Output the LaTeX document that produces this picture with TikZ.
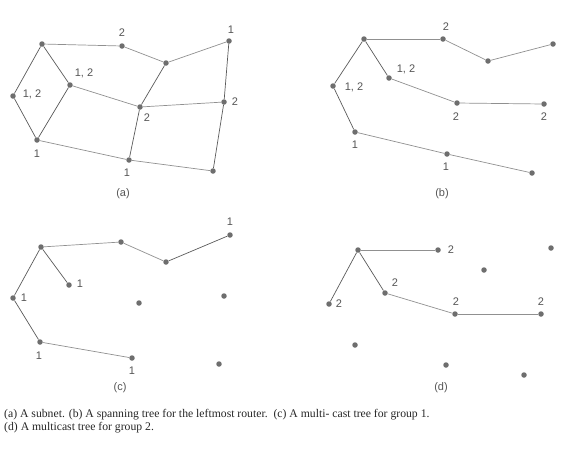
\documentclass[tikz,border=0pt]{standalone}
\usepackage{fontspec}
\setmainfont{Liberation Serif}
\newfontfamily\lblfont{Liberation Sans}
\definecolor{dotgray}{HTML}{6E6E6E}
\definecolor{linedark}{HTML}{5A5A5A}
\definecolor{linelight}{HTML}{909090}
\definecolor{lblgray}{HTML}{555555}
\begin{document}
\begin{tikzpicture}[x=1pt,y=-1pt,
  dot/.style={circle,fill=dotgray,inner sep=0pt,minimum size=5.5pt},
  linkd/.style={draw=linedark,line width=0.7pt},
  linkl/.style={draw=linelight,line width=0.7pt},
  lbl/.style={font=\lblfont\fontsize{11}{13}\selectfont,text=lblgray,inner sep=0pt},
  captext/.style={font=\fontsize{11.7}{13}\selectfont,inner sep=0pt,anchor=west,text=black!85}]
\useasboundingbox (0,0) rectangle (578,459);
% ---------- (a)
\node[dot] (a1) at (42,44) {};
\node[dot] (a2) at (122,46) {};
\node[dot] (a3) at (166,63) {};
\node[dot] (a4) at (229,41) {};
\node[dot] (a5) at (13,96) {};
\node[dot] (a6) at (70,85) {};
\node[dot] (a7) at (140,107) {};
\node[dot] (a8) at (224,102) {};
\node[dot] (a9) at (37,140) {};
\node[dot] (a10) at (129,160) {};
\node[dot] (a11) at (213,171) {};
\draw[linkl] (a1) -- (a2);
\draw[linkl] (a2) -- (a3);
\draw[linkl] (a3) -- (a4);
\draw[linkd] (a1) -- (a5);
\draw[linkd] (a1) -- (a6);
\draw[linkd] (a5) -- (a9);
\draw[linkd] (a6) -- (a9);
\draw[linkl] (a6) -- (a7);
\draw[linkd] (a3) -- (a7);
\draw[linkl] (a7) -- (a8);
\draw[linkd] (a4) -- (a8);
\draw[linkd] (a7) -- (a10);
\draw[linkl] (a9) -- (a10);
\draw[linkl] (a10) -- (a11);
\draw[linkd] (a8) -- (a11);
\node[lbl] (la2) at (122,33) {2};
\node[lbl] (la4) at (231,30) {1};
\node[lbl] (la5) at (32,94) {1, 2};
\node[lbl] (la6) at (84,73) {1, 2};
\node[lbl] (la7) at (147,118) {2};
\node[lbl] (la8) at (235,102) {2};
\node[lbl] (la9) at (37,154) {1};
\node[lbl] (la10) at (127,173) {1};
\node[lbl] (ta) at (123,194) {(a)};
% ---------- (b)
\node[dot] (b1) at (364,39) {};
\node[dot] (b2) at (443,39) {};
\node[dot] (b3) at (488,61) {};
\node[dot] (b4) at (553,44) {};
\node[dot] (b5) at (333,86) {};
\node[dot] (b6) at (389,78) {};
\node[dot] (b7) at (457,103) {};
\node[dot] (b8) at (544,104) {};
\node[dot] (b9) at (355,132) {};
\node[dot] (b10) at (447,154) {};
\node[dot] (b11) at (532,173) {};
\draw[linkl] (b1) -- (b2);
\draw[linkl] (b2) -- (b3);
\draw[linkl] (b3) -- (b4);
\draw[linkd] (b1) -- (b5);
\draw[linkd] (b1) -- (b6);
\draw[linkd] (b5) -- (b9);
\draw[linkl] (b6) -- (b7);
\draw[linkl] (b7) -- (b8);
\draw[linkl] (b9) -- (b10);
\draw[linkl] (b10) -- (b11);
\node[lbl] (lb2) at (446,27) {2};
\node[lbl] (lb5) at (354,87) {1, 2};
\node[lbl] (lb6) at (406,69) {1, 2};
\node[lbl] (lb7) at (456,117) {2};
\node[lbl] (lb8) at (544,117) {2};
\node[lbl] (lb9) at (355,145) {1};
\node[lbl] (lb10) at (446,167) {1};
\node[lbl] (tb) at (442,194) {(b)};
% ---------- (c)
\node[dot] (c1) at (41,247) {};
\node[dot] (c2) at (121,242) {};
\node[dot] (c3) at (166,262) {};
\node[dot] (c4) at (230,235) {};
\node[dot] (c5) at (13,298) {};
\node[dot] (c6) at (69,285) {};
\node[dot] (c7) at (139,303) {};
\node[dot] (c8) at (224,296) {};
\node[dot] (c9) at (40,342) {};
\node[dot] (c10) at (132,358) {};
\node[dot] (c11) at (219,364) {};
\draw[linkl] (c1) -- (c2);
\draw[linkl] (c2) -- (c3);
\draw[linkd] (c3) -- (c4);
\draw[linkd] (c1) -- (c5);
\draw[linkd] (c1) -- (c6);
\draw[linkd] (c5) -- (c9);
\draw[linkl] (c9) -- (c10);
\node[lbl] (lc4) at (230,222) {1};
\node[lbl] (lc5) at (24,298) {1};
\node[lbl] (lc6) at (80,284) {1};
\node[lbl] (lc9) at (39,356) {1};
\node[lbl] (lc10) at (132,371) {1};
\node[lbl] (tc) at (120,388) {(c)};
% ---------- (d)
\node[dot] (d1) at (358,250) {};
\node[dot] (d2) at (438,250) {};
\node[dot] (d3) at (484,270) {};
\node[dot] (d4) at (551,248) {};
\node[dot] (d5) at (329,304) {};
\node[dot] (d6) at (385,293) {};
\node[dot] (d7) at (455,314) {};
\node[dot] (d8) at (541,314) {};
\node[dot] (d9) at (355,345) {};
\node[dot] (d10) at (446,365) {};
\node[dot] (d11) at (524,375) {};
\draw[linkl] (d1) -- (d2);
\draw[linkd] (d1) -- (d5);
\draw[linkd] (d1) -- (d6);
\draw[linkl] (d6) -- (d7);
\draw[linkl] (d7) -- (d8);
\node[lbl] (ld2) at (451,250) {2};
\node[lbl] (ld5) at (339,304) {2};
\node[lbl] (ld6) at (395,283) {2};
\node[lbl] (ld7) at (456,302) {2};
\node[lbl] (ld8) at (541,302) {2};
\node[lbl] (td) at (441,388) {(d)};
% ---------- caption
\node[captext] (cap1) at (4,415) {(a) A subnet. (b) A spanning tree for the leftmost router.\ \ (c) A multi- cast tree for group 1.};
\node[captext] (cap2) at (4,428) {(d) A multicast tree for group 2.};
\end{tikzpicture}
\end{document}
